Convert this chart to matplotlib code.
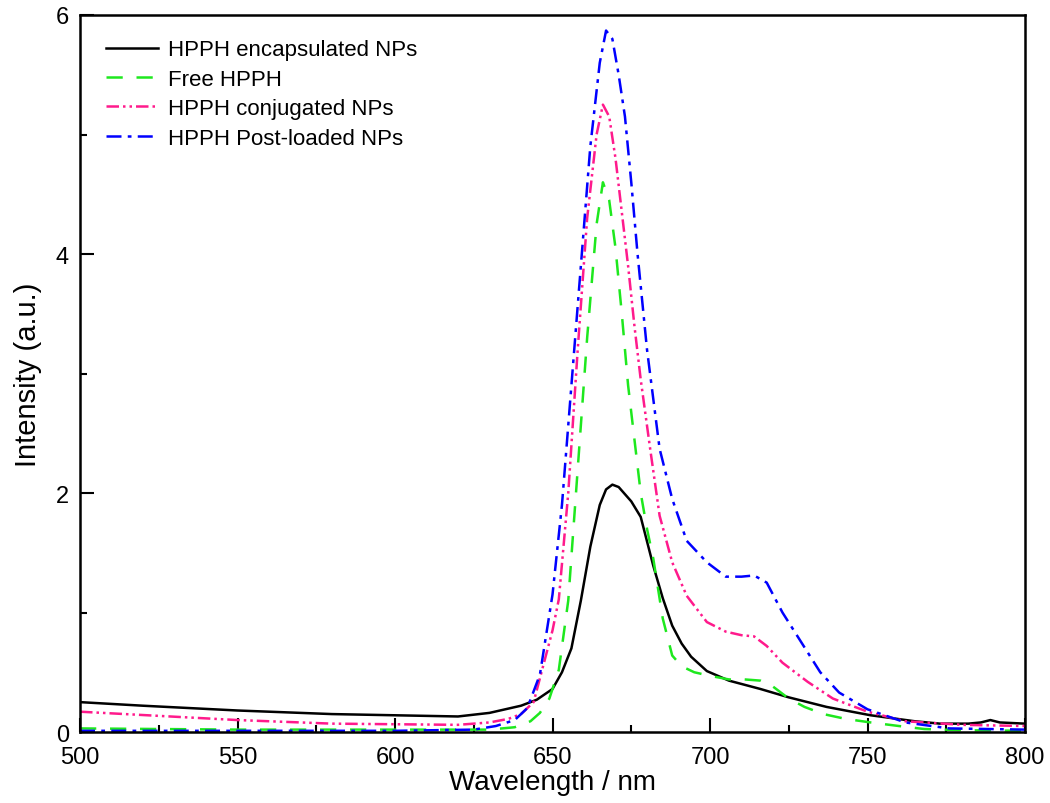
import numpy as np
import matplotlib
matplotlib.use("Agg")
import matplotlib.pyplot as plt
from matplotlib.ticker import MultipleLocator

plt.rcParams["font.family"] = ["Liberation Sans", "DejaVu Sans"]

# ----- data -----
wl_encap = [500, 520, 550, 580, 600, 620, 630, 640, 645, 650, 653, 656, 659, 662,
            665, 667, 669, 671, 673, 675, 678, 682, 685, 688, 691, 694, 699, 706,
            716, 725, 737, 751, 765, 773, 782, 786, 789, 792, 800]
int_encap = [0.25, 0.22, 0.18, 0.15, 0.14, 0.13, 0.16, 0.22, 0.27, 0.36, 0.5, 0.7,
             1.1, 1.55, 1.9, 2.03, 2.07, 2.05, 1.99, 1.93, 1.8, 1.39, 1.12, 0.89, 0.74,
             0.63, 0.51, 0.43, 0.36, 0.29, 0.21, 0.14, 0.09, 0.07, 0.07, 0.08, 0.1,
             0.08, 0.07]

wl_free = [500, 550, 600, 630, 638, 643, 646, 649, 652, 655, 658, 661, 664, 666, 668,
           670, 672, 674, 676, 678, 680, 682, 685, 688, 691, 695, 700, 706, 711, 716,
           720, 725, 730, 736, 743, 751, 760, 768, 780, 800]
int_free = [0.03, 0.02, 0.02, 0.02, 0.04, 0.09, 0.16, 0.28, 0.52, 1.1, 2.2, 3.3, 4.25,
            4.6, 4.45, 4.05, 3.5, 2.9, 2.45, 2.0, 1.7, 1.45, 0.95, 0.64, 0.55, 0.5,
            0.47, 0.44, 0.44, 0.43, 0.38, 0.28, 0.21, 0.15, 0.11, 0.08, 0.05, 0.025,
            0.015, 0.01]

wl_conj = [500, 550, 580, 620, 630, 636, 640, 644, 647, 650, 652, 655, 658, 661, 664,
           666, 668, 670, 672, 674, 676, 678, 681, 684, 688, 692.6, 699, 705, 710,
           714, 718, 723, 731, 739, 750, 762, 780, 800]
int_conj = [0.17, 0.1, 0.07, 0.06, 0.08, 0.11, 0.15, 0.25, 0.55, 0.85, 1.11, 2.0, 3.2,
            4.3, 5.0, 5.25, 5.15, 4.8, 4.35, 3.9, 3.4, 2.95, 2.37, 1.81, 1.42, 1.14,
            0.92, 0.84, 0.81, 0.80, 0.72, 0.58, 0.42, 0.28, 0.17, 0.09, 0.06, 0.05]

wl_post = [500, 550, 600, 625, 632, 638, 642, 646, 650, 653, 656, 659, 662, 665, 667,
           669, 671, 673, 675, 677, 680, 684, 688, 692.6, 699, 705, 710, 714, 718,
           723, 729, 735, 741, 750, 762, 776, 800]
int_post = [0.01, 0.01, 0.01, 0.02, 0.05, 0.1, 0.2, 0.48, 1.15, 1.9, 2.9, 3.9, 4.9,
            5.6, 5.87, 5.8, 5.5, 5.15, 4.6, 4.0, 3.2, 2.37, 1.95, 1.6, 1.42, 1.30,
            1.30, 1.31, 1.25, 1.0, 0.75, 0.5, 0.33, 0.19, 0.08, 0.03, 0.02]

if __name__ == "__main__":
    fig = plt.figure(figsize=(10.5, 8.04), dpi=100)
    ax = fig.add_axes([0.0762, 0.0883, 0.9, 0.8918])

    ax.plot(wl_encap, int_encap, color="black", lw=1.8, label="HPPH encapsulated NPs")
    ax.plot(wl_free, int_free, color="#1ee81e", lw=1.8, dashes=(6.5, 5.5),
            label="Free HPPH")
    ax.plot(wl_conj, int_conj, color="#ff1a8c", lw=1.8, dashes=(5, 1.6, 1, 1.6, 1, 1.6),
            label="HPPH conjugated NPs")
    ax.plot(wl_post, int_post, color="#0000ff", lw=1.8, dashes=(6, 2.5, 1.5, 2.5),
            label="HPPH Post-loaded NPs")

    ax.set_xlim(500, 800)
    ax.set_ylim(0, 6)
    ax.xaxis.set_major_locator(MultipleLocator(50))
    ax.xaxis.set_minor_locator(MultipleLocator(25))
    ax.yaxis.set_major_locator(MultipleLocator(2))
    ax.yaxis.set_minor_locator(MultipleLocator(1))
    ax.tick_params(which="both", direction="in", top=False, right=False,
                   labelsize=17, width=1.5)
    ax.tick_params(which="major", length=10)
    ax.tick_params(which="minor", length=5)
    ax.tick_params(axis="x", pad=10)
    ax.tick_params(axis="y", pad=8)
    for sp in ax.spines.values():
        sp.set_linewidth(1.8)

    ax.set_xlabel("Wavelength / nm", fontsize=20, labelpad=1)
    ax.set_ylabel("Intensity (a.u.)", fontsize=21, labelpad=10)

    ax.legend(loc="upper left", frameon=False, fontsize=16, handlelength=2.3,
              handletextpad=0.45, labelspacing=0.38, borderaxespad=0.0,
              borderpad=0.0, bbox_to_anchor=(0.028, 0.966))

    fig.savefig("out.png", dpi=100)
